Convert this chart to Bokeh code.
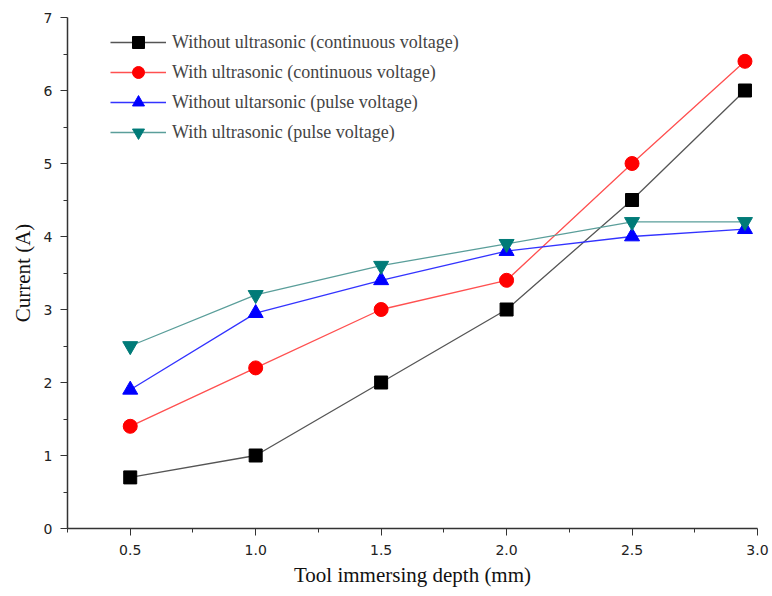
from bokeh.plotting import figure
from bokeh.models import Range1d, Legend, LegendItem, FixedTicker
from bokeh.embed import file_html
from bokeh.resources import INLINE

depth = [0.5, 1.0, 1.5, 2.0, 2.5, 2.95]
no_us_cont = [0.7, 1.0, 2.0, 3.0, 4.5, 6.0]
us_cont = [1.4, 2.2, 3.0, 3.4, 5.0, 6.4]
no_us_pulse = [1.9, 2.95, 3.4, 3.8, 4.0, 4.1]
us_pulse = [2.5, 3.2, 3.6, 3.9, 4.2, 4.2]

labels = [
    "Without ultrasonic (continuous voltage)",
    "With ultrasonic (continuous voltage)",
    "Without ultarsonic (pulse voltage)",
    "With ultrasonic (pulse voltage)",
]

p = figure(width=772, height=596, output_backend="svg", toolbar_location=None,
           x_range=Range1d(0.25, 3.0), y_range=Range1d(0, 7),
           min_border_left=67, min_border_right=15, min_border_top=17, min_border_bottom=68)
p.outline_line_color = None
p.grid.visible = False
p.background_fill_color = "white"

serif = "Liberation Serif"
sans = "DejaVu Sans"

for ax in (p.xaxis[0], p.yaxis[0]):
    ax.axis_line_color = "#333333"
    ax.axis_line_width = 1.5
    ax.major_tick_line_color = "#333333"
    ax.minor_tick_line_color = "#333333"
    ax.major_tick_out = 7
    ax.major_tick_in = 0
    ax.minor_tick_out = 4
    ax.minor_tick_in = 0
    ax.major_label_text_font = sans
    ax.major_label_text_font_size = "14px"
    ax.major_label_text_color = "#222222"
    ax.axis_label_text_font = serif
    ax.axis_label_text_font_size = "21px"
    ax.axis_label_text_font_style = "normal"
    ax.axis_label_text_color = "#111111"

p.xaxis.ticker = FixedTicker(ticks=[0.5, 1.0, 1.5, 2.0, 2.5, 3.0],
                             minor_ticks=[0.25, 0.75, 1.25, 1.75, 2.25, 2.75])
p.yaxis.ticker = FixedTicker(ticks=[0, 1, 2, 3, 4, 5, 6, 7],
                             minor_ticks=[0.5, 1.5, 2.5, 3.5, 4.5, 5.5, 6.5])
p.xaxis.major_label_overrides = {0.5: "0.5", 1.0: "1.0", 1.5: "1.5", 2.0: "2.0", 2.5: "2.5", 3.0: "3.0"}
p.xaxis.axis_label = "Tool immersing depth (mm)"
p.yaxis.axis_label = "Current (A)"
p.xaxis.major_label_standoff = 9
p.yaxis.major_label_standoff = 8
p.xaxis.axis_label_standoff = 5
p.yaxis.axis_label_standoff = 6

series = [
    (no_us_cont, "#000000", "#555555", "square", 13),
    (us_cont, "#ff0000", "#ff5050", "circle", 14),
    (no_us_pulse, "#0000ff", "#3333ff", "triangle", 15),
    (us_pulse, "#007b78", "#5a9e9a", "inverted_triangle", 15),
]

items = []
for (vals, mc, lc, mk, sz), lab in zip(series, labels):
    l = p.line(depth, vals, line_color=lc, line_width=1.3)
    s = p.scatter(depth, vals, marker=mk, size=sz, fill_color=mc, line_color=mc)
    items.append(LegendItem(label=lab, renderers=[l, s]))

legend = Legend(items=items, location=(43, 381), padding=0, margin=0, spacing=0,
                glyph_width=56, glyph_height=30, label_height=30, label_standoff=6,
                label_text_font=serif, label_text_font_size="18px",
                border_line_color=None, background_fill_alpha=0)
p.add_layout(legend, "center")

open("out.html", "w").write(file_html(p, INLINE))
